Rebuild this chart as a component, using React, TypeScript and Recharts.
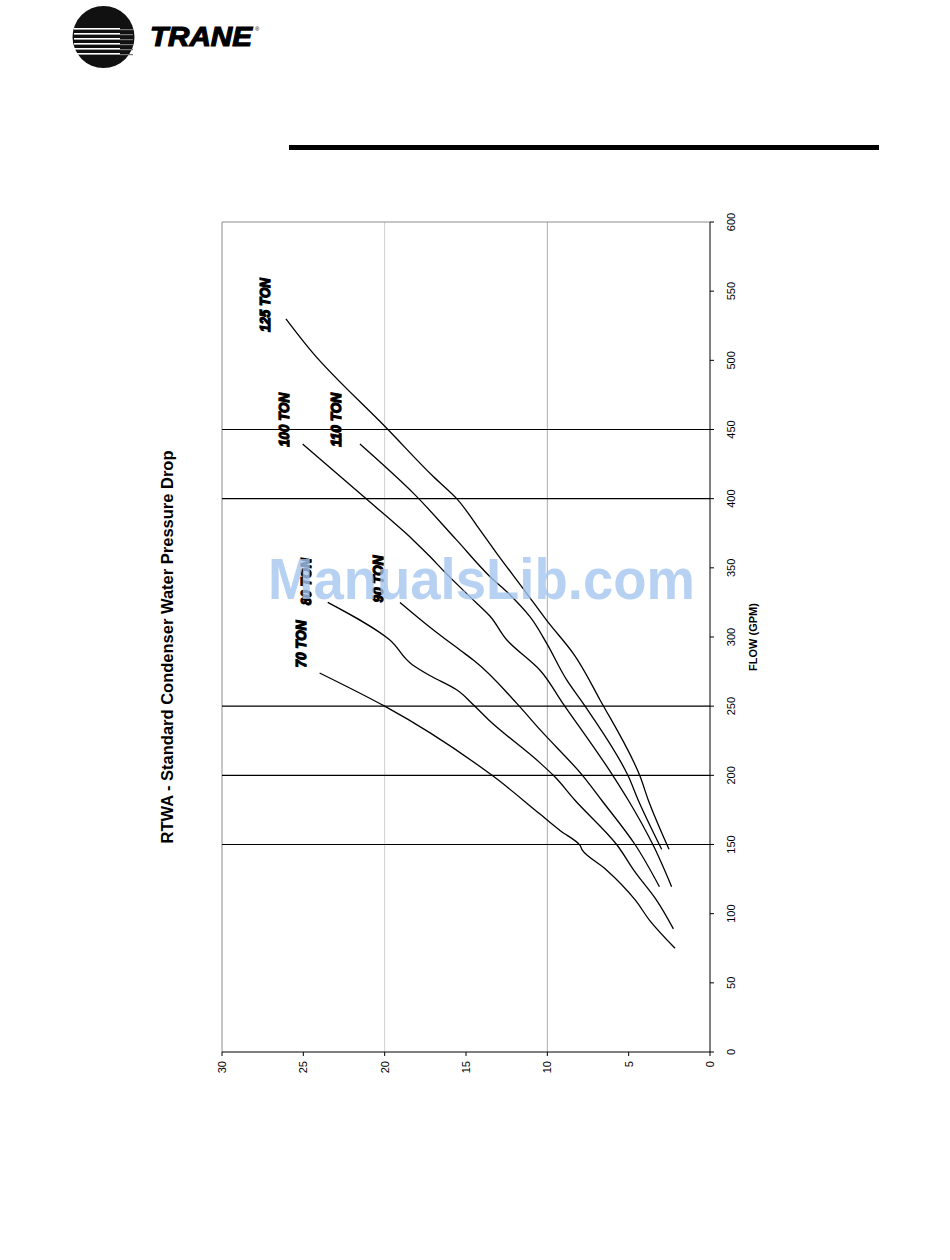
import React from 'react';
import { LineChart, Line, XAxis, YAxis, ReferenceLine, ReferenceDot, Label } from 'recharts';

// flow (GPM) vs water pressure drop
const FLOW_TICKS = [0, 50, 100, 150, 200, 250, 300, 350, 400, 450, 500, 550, 600];
const DP_TICKS = [0, 5, 10, 15, 20, 25, 30];
const MARKER_FLOWS = [150, 200, 250, 400, 450];

const TON_70: [number, number][] = [
  [75, 2.15], [95, 3.7], [110, 4.6], [132, 6.4], [146, 7.85], [149.5, 8.0], [160, 9.2],
  [172, 10.45], [200, 13.4], [250, 20.0], [274, 24.0],
];
const TON_80: [number, number][] = [
  [89, 2.25], [110, 3.3], [130, 4.6], [150, 5.74], [182, 8.3], [200, 9.63], [209, 10.45],
  [240, 13.6], [251, 14.55], [262, 15.6], [272, 17.2], [280, 18.3], [298, 19.7], [325, 23.5],
];
const TON_90: [number, number][] = [
  [119.5, 3.11], [150, 4.61], [182, 6.66], [199.3, 7.79], [233, 10.45], [252, 11.88],
  [283.4, 14.55], [290.6, 15.37], [306, 17.1], [325, 19.06],
];
const TON_100: [number, number][] = [
  [119.5, 2.36], [149.4, 3.49], [182, 5.02], [199.3, 5.94], [253, 9.1], [276, 10.45],
  [298, 12.5], [315, 13.52], [329, 14.75], [348, 16.39], [358, 17.2], [370, 18.24],
  [399.5, 21.1], [439.5, 25.04],
];
const TON_110: [number, number][] = [
  [146.5, 2.97], [182, 4.41], [199.3, 5.02], [250, 7.68], [269, 8.81], [295.4, 10.04],
  [314.7, 11.07], [330.4, 12.29], [343.6, 13.52], [370, 15.57], [404, 18.24], [439.5, 21.52],
];
const TON_125: [number, number][] = [
  [146.5, 2.52], [182, 3.79], [199.3, 4.3], [254.5, 6.76], [288, 8.4], [312, 10.04],
  [331.6, 11.27], [360.5, 13.11], [380, 14.3], [400, 15.57], [416, 17.01],
  [450, 19.8], [505, 24.39], [530, 26.07],
];

const SERIES_NAMES = ['70 TON', '80 TON', '90 TON', '100 TON', '110 TON', '125 TON'];
const SERIES_POINTS = [TON_70, TON_80, TON_90, TON_100, TON_110, TON_125];
// where each curve's name sits (flow, pressure drop)
const LABEL_FLOW = [295, 340, 342, 457, 457, 540];
const LABEL_DP = [25.2, 24.85, 20.44, 26.23, 23.05, 27.36];

const FONT = '"Liberation Sans", Arial, sans-serif';

// the chart is drawn upright, then turned a quarter turn to the left like the printed page
const CHART_W = 890;
const CHART_H = 608;
const TOP = 70;

const toRows = (pts: [number, number][]) => pts.map(([flow, dp]) => ({ flow, dp }));

function TrackLabel(text: string) {
  return (props: any) => (
    <text
      x={props.cx}
      y={props.cy}
      textAnchor="middle"
      dominantBaseline="central"
      fontFamily={FONT}
      fontSize={15.5}
      fontWeight={900}
      fontStyle="italic"
      fill="#000"
      stroke="#000"
      strokeWidth={1.3}
      textLength={text.length > 6 ? 54 : 47}
      lengthAdjust="spacingAndGlyphs"
    >
      {text}
    </text>
  );
}

function Logo() {
  const stripes = [28, 33, 38, 43, 48, 53];
  return (
    <svg width={280} height={80} style={{ position: 'absolute', left: 0, top: 0 }}>
      <circle cx={103.5} cy={37} r={31} fill="#111" />
      {stripes.map((y) => (
        <rect key={y} x={74} y={y} width={46} height={1.6} fill="#fff" />
      ))}
      {stripes.map((y) => (
        <rect key={'g' + y} x={120} y={y + 1} width={13} height={1.2} fill="#777" />
      ))}
      <text
        x={150}
        y={46}
        fontFamily={FONT}
        fontSize={28}
        fontWeight={900}
        fontStyle="italic"
        fill="#000"
        stroke="#000"
        strokeWidth={1.2}
        textLength={102}
        lengthAdjust="spacingAndGlyphs"
      >
        TRANE
      </text>
      <text x={255} y={31} fontFamily={FONT} fontSize={6} fill="#000">
        ®
      </text>
    </svg>
  );
}

export default function App() {
  return (
    <div style={{ position: 'absolute', left: 0, top: 0, width: 950, height: 1260, background: '#fff', fontFamily: FONT }}>
      <Logo />
      <div style={{ position: 'absolute', left: 289, top: 145, width: 590, height: 5, background: '#000' }} />

      <div
        style={{
          position: 'absolute',
          left: 222 - TOP,
          top: 1092,
          width: CHART_W,
          height: CHART_H,
          transform: 'rotate(-90deg)',
          transformOrigin: '0 0',
        }}
      >
        <LineChart width={CHART_W} height={CHART_H} margin={{ top: TOP, right: 20, bottom: 0, left: 0 }}>
          <XAxis
            type="number"
            dataKey="flow"
            domain={[0, 600]}
            ticks={FLOW_TICKS}
            interval={0}
            height={50}
            tickSize={4}
            tickMargin={13}
            stroke="#000"
            tick={{ fontSize: 11, fill: '#000', fontFamily: FONT }}
          >
            <Label
              value="FLOW (GPM)"
              position="insideBottom"
              offset={3}
              style={{ fontSize: 11, fontWeight: 700, fill: '#000', fontFamily: FONT }}
            />
          </XAxis>
          <YAxis
            type="number"
            domain={[0, 30]}
            ticks={DP_TICKS}
            interval={0}
            width={40}
            tickSize={4}
            tickMargin={5}
            stroke="#000"
            tick={{ fontSize: 11, fill: '#000', fontFamily: FONT }}
          />
          <ReferenceLine y={20} stroke="#cfcfcf" />
          <ReferenceLine y={10} stroke="#ababab" />
          <ReferenceLine y={30} stroke="#8c8c8c" />
          <ReferenceLine x={600} stroke="#8c8c8c" />
          {MARKER_FLOWS.map((f) => (
            <ReferenceLine key={f} x={f} stroke="#000" strokeWidth={1.2} />
          ))}
          {SERIES_POINTS.map((pts, i) => (
            <Line
              key={SERIES_NAMES[i]}
              name={SERIES_NAMES[i]}
              data={toRows(pts)}
              dataKey="dp"
              type="monotone"
              stroke="#000"
              strokeWidth={1.3}
              dot={false}
              isAnimationActive={false}
            />
          ))}
          {SERIES_NAMES.map((name, i) => (
            <ReferenceDot key={name} x={LABEL_FLOW[i]} y={LABEL_DP[i]} r={0} shape={TrackLabel(name)} />
          ))}
        </LineChart>
        <svg
          width={CHART_W}
          height={CHART_H}
          style={{ position: 'absolute', left: 0, top: 0, pointerEvents: 'none' }}
        >
          <text x={445} y={TOP - 49} textAnchor="middle" fontFamily={FONT} fontSize={16.5} fontWeight={700} fill="#000">
            RTWA - Standard Condenser Water Pressure Drop
          </text>
        </svg>
      </div>

      <svg width={950} height={1260} style={{ position: 'absolute', left: 0, top: 0, pointerEvents: 'none' }}>
        <text
          x={268}
          y={599}
          fontFamily={FONT}
          fontSize={58}
          fontWeight={700}
          fill="rgba(165,198,240,0.8)"
          textLength={427}
          lengthAdjust="spacingAndGlyphs"
        >
          ManualsLib.com
        </text>
      </svg>
    </div>
  );
}
